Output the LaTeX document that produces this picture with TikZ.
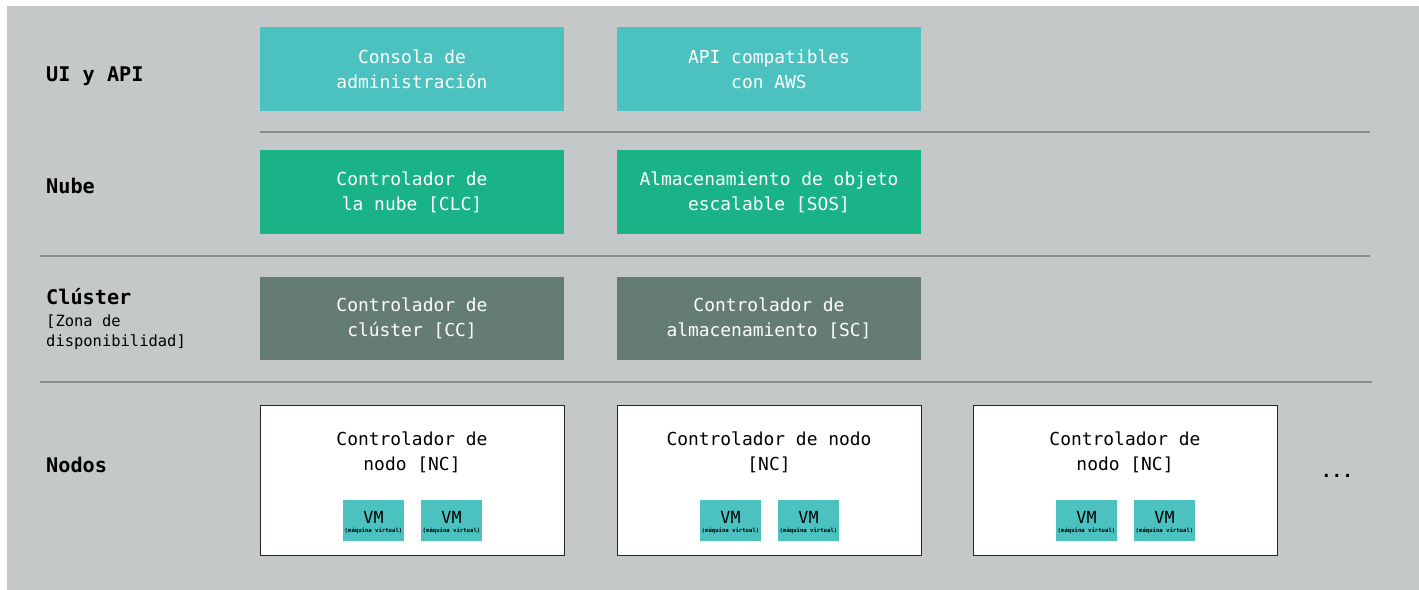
\documentclass[tikz,border=0pt]{standalone}
\usepackage{fontspec}
\setmonofont{DejaVu Sans Mono}
\usepackage{xcolor}
\usetikzlibrary{positioning}

\definecolor{fondo}{HTML}{C5C8C9}
\definecolor{linea}{HTML}{8A8C8C}
\definecolor{turquesa}{HTML}{4BC2C0}
\definecolor{verde}{HTML}{1AB388}
\definecolor{gris}{HTML}{647C74}

\tikzset{
    capa/.style={anchor=west, font=\ttfamily\bfseries\fontsize{11.5}{14}\selectfont},
    subcapa/.style={anchor=west, align=left, font=\ttfamily\fontsize{8.8}{11.5}\selectfont},
    caja/.style={minimum width=6.08cm, minimum height=1.68cm, inner sep=0pt, align=center,
        text=white, font=\ttfamily\fontsize{10.2}{14.2}\selectfont},
    nodobox/.style={draw=black!85, line width=0.5pt, fill=white, minimum width=6.08cm,
        minimum height=3cm, inner sep=0pt},
    ncabeza/.style={align=center, font=\ttfamily\fontsize{10.2}{14.2}\selectfont},
    vmbox/.style={fill=turquesa, minimum width=1.22cm, minimum height=0.82cm, inner sep=0pt},
    separador/.style={draw=linea, line width=1.6pt},
}

\begin{document}
\begin{tikzpicture}[x=0.02cm, y=-0.02cm]
    \useasboundingbox (0,0) rectangle (1419,590);
    % Fondo
    \fill[fondo] (7,6) rectangle (1419,590);

    % Etiquetas de capa
    \node[capa] (ui) at (40,76) {UI y API};
    \node[capa] (nube) at (40,186) {Nube};
    \node[capa] (cluster) at (40,297) {Clúster};
    \node[subcapa] (zona) at (40,332) {[Zona de\\disponibilidad]};
    \node[capa] (nodos) at (40,465) {Nodos};

    % UI y API
    \node[caja, fill=turquesa] (consola) at (412,69) {Consola de\\administración};
    \node[caja, fill=turquesa] (aws) at (769,69) {API compatibles\\con AWS};

    % Nube
    \node[caja, fill=verde] (clc) at (412,192) {Controlador de\\la nube [CLC]};
    \node[caja, fill=verde] (sos) at (769,192) {Almacenamiento de objeto\\escalable [SOS]};

    % Cluster
    \node[caja, fill=gris, minimum height=1.66cm] (cc) at (412,318.5) {Controlador de\\clúster [CC]};
    \node[caja, fill=gris, minimum height=1.66cm] (sc) at (769,318.5) {Controlador de\\almacenamiento [SC]};

    % Separadores
    \draw[separador] (260,132) -- (1370,132);
    \draw[separador] (40,256) -- (1370,256);
    \draw[separador] (40,382) -- (1372,382);

    % Nodos
    \foreach \n/\cx/\txt in {1/412/{Controlador de\\nodo {[NC]}},
                             2/769/{Controlador de nodo\\{[NC]}},
                             3/1125/{Controlador de\\nodo {[NC]}}} {
        \node[nodobox] (nc\n) at (\cx,480) {};
        \node[ncabeza] (nct\n) at (\cx,452) {\txt};
        \node[vmbox] (vma\n) at (\cx-38.5,520.5) {};
        \node[vmbox] (vmb\n) at (\cx+39.5,520.5) {};
        \foreach \v in {vma\n,vmb\n} {
            \node[font=\ttfamily\fontsize{9.5}{10}\selectfont, inner sep=0pt] at ([yshift=0.07cm]\v.center) {VM};
            \node[font=\ttfamily\bfseries\fontsize{3.2}{4}\selectfont, inner sep=0pt] at ([yshift=-0.2cm]\v.center) {(máquina virtual)};
        }
    }

    \node[font=\ttfamily\bfseries\fontsize{10}{12}\selectfont, inner sep=0pt] (mas) at (1337,476) {...};
\end{tikzpicture}
\end{document}
